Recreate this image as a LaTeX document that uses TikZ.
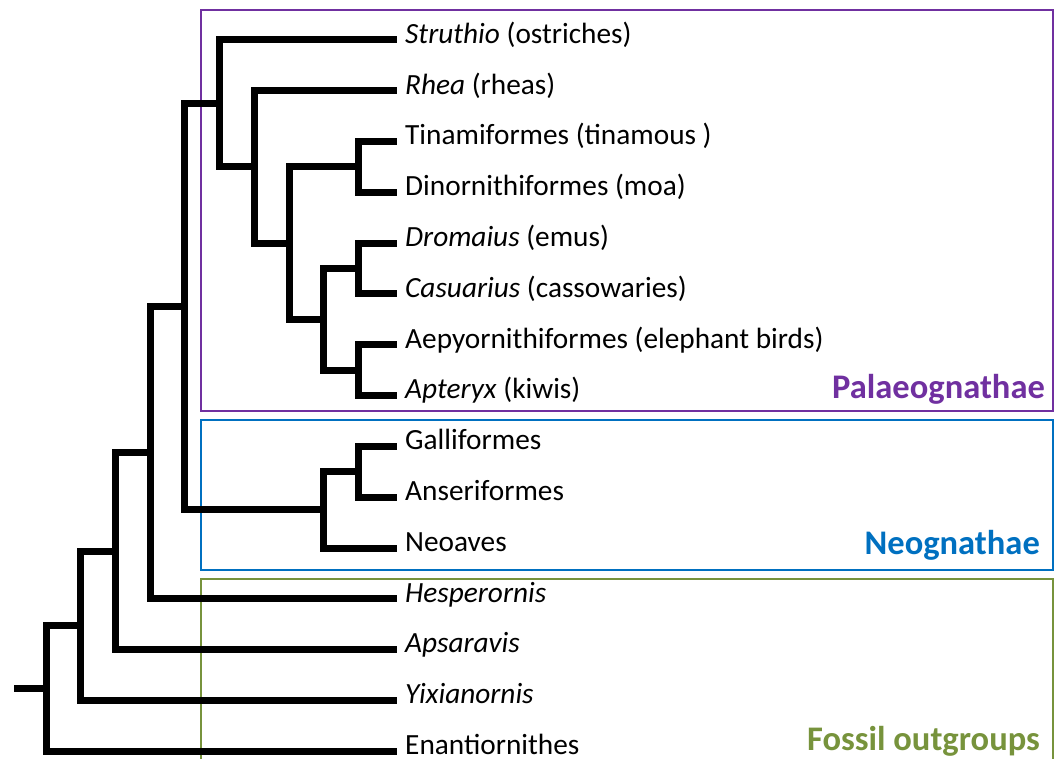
\documentclass[tikz,border=0pt]{standalone}
\usepackage{fontspec}
\setmainfont{Carlito}
\usetikzlibrary{positioning}
\usepackage{xcolor}
\definecolor{palaeopurple}{HTML}{7030A0}
\definecolor{neoblue}{HTML}{0070C0}
\definecolor{fossilgreen}{HTML}{77933C}

\begin{document}
\begin{tikzpicture}[
    x=1pt, y=-1pt,
    branch/.style={line width=7pt, black},
    taxon/.style={anchor=west, inner xsep=8pt, inner ysep=0pt,
                  text height=0.66em, text depth=0pt,
                  font=\fontsize{29.3}{32}\selectfont},
    cladebox/.style={line width=2.5pt},
    cladename/.style={anchor=base east, inner sep=0pt,
                      font=\fontsize{34.5}{38}\selectfont\bfseries}
  ]
    \useasboundingbox (0,0) rectangle (1061,759);

    % clade boxes
    \draw[cladebox, palaeopurple] (201,10) rectangle (1053,411);
    \draw[cladebox, neoblue] (201,420) rectangle (1053,570);
    \draw[cladebox, fossilgreen] (201,759) |- (1053,579) -- (1053,759);
    \node[cladename, text=palaeopurple] (pal) at (1045,399) {Palaeognathae};
    \node[cladename, text=neoblue] (neo) at (1040,554) {Neognathae};
    \node[cladename, text=fossilgreen] (fos) at (1040,750) {Fossil outgroups};

    % taxa
    \node[taxon] (str) at (397,40) {\textit{Struthio} (ostriches)};
    \node[taxon] (rhe) at (397,90.8) {\textit{Rhea} (rheas)};
    \node[taxon] (tin) at (397,141.6) {Tinamiformes (tinamous )};
    \node[taxon] (din) at (397,192.4) {Dinornithiformes (moa)};
    \node[taxon] (dro) at (397,243.2) {\textit{Dromaius} (emus)};
    \node[taxon] (cas) at (397,294) {\textit{Casuarius} (cassowaries)};
    \node[taxon] (aep) at (397,344.8) {Aepyornithiformes (elephant birds)};
    \node[taxon] (apt) at (397,395.6) {\textit{Apteryx} (kiwis)};
    \node[taxon] (gal) at (397,446.4) {Galliformes};
    \node[taxon] (ans) at (397,497.2) {Anseriformes};
    \node[taxon] (nea) at (397,548) {Neoaves};
    \node[taxon] (hes) at (397,598.8) {\textit{Hesperornis}};
    \node[taxon] (aps) at (397,649.6) {\textit{Apsaravis}};
    \node[taxon] (yix) at (397,700.4) {\textit{Yixianornis}};
    \node[taxon] (ena) at (397,751.2) {Enantiornithes};

    % internal nodes
    \coordinate (tidi) at (358,167);
    \coordinate (drca) at (358,268.6);
    \coordinate (aeap) at (358,370.2);
    \coordinate (ratA) at (323,319.4);
    \coordinate (ratB) at (289,243.2);
    \coordinate (ratC) at (254,167);
    \coordinate (pala) at (219,103.5);
    \coordinate (gaan) at (358,471.8);
    \coordinate (neog) at (323,509.9);
    \coordinate (neor) at (184,306.7);
    \coordinate (orn1) at (150,452.75);
    \coordinate (orn2) at (115,551.2);
    \coordinate (orn3) at (80,625.8);
    \coordinate (root) at (46,688.5);
    \coordinate (stem) at (14,688.5);

    \draw[branch] (tidi) |- (tin.west);
    \draw[branch] (tidi) |- (din.west);
    \draw[branch] (drca) |- (dro.west);
    \draw[branch] (drca) |- (cas.west);
    \draw[branch] (aeap) |- (aep.west);
    \draw[branch] (aeap) |- (apt.west);
    \draw[branch] (ratA) |- (drca);
    \draw[branch] (ratA) |- (aeap);
    \draw[branch] (ratB) |- (tidi);
    \draw[branch] (ratB) |- (ratA);
    \draw[branch] (ratC) |- (rhe.west);
    \draw[branch] (ratC) |- (ratB);
    \draw[branch] (pala) |- (str.west);
    \draw[branch] (pala) |- (ratC);
    \draw[branch] (gaan) |- (gal.west);
    \draw[branch] (gaan) |- (ans.west);
    \draw[branch] (neog) |- (gaan);
    \draw[branch] (neog) |- (nea.west);
    \draw[branch] (neor) |- (pala);
    \draw[branch] (neor) |- (neog);
    \draw[branch] (orn1) |- (neor);
    \draw[branch] (orn1) |- (hes.west);
    \draw[branch] (orn2) |- (orn1);
    \draw[branch] (orn2) |- (aps.west);
    \draw[branch] (orn3) |- (orn2);
    \draw[branch] (orn3) |- (yix.west);
    \draw[branch] (root) |- (orn3);
    \draw[branch] (root) |- (ena.west);
    \draw[branch] (stem) -- (root);
  \end{tikzpicture}
\end{document}
